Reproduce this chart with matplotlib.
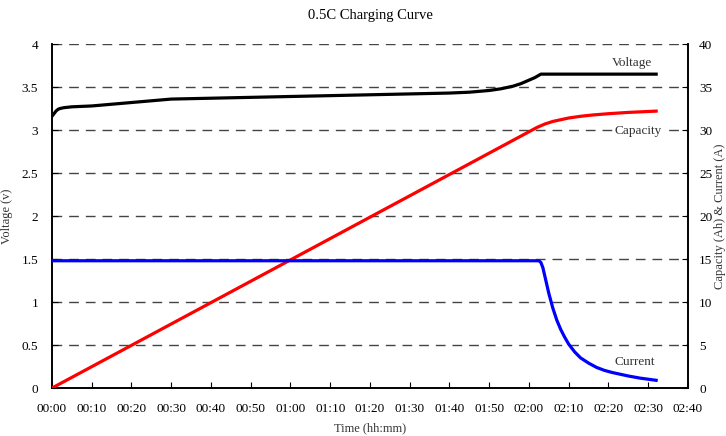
import matplotlib
matplotlib.use("Agg")
import matplotlib.pyplot as plt
import numpy as np

plt.rcParams['font.family'] = ['Liberation Serif', 'DejaVu Serif']

# time in minutes
v_time = [0, 0.5, 1, 1.5, 2, 3, 5, 10, 20, 30, 40, 50, 60, 70, 80, 90, 100, 105, 110, 113, 116, 118, 120, 121.5, 123, 130, 140, 152]
voltage = [3.16, 3.19, 3.22, 3.24, 3.25, 3.26, 3.27, 3.28, 3.32, 3.36, 3.37, 3.38, 3.39, 3.40, 3.41, 3.42, 3.43, 3.44, 3.46, 3.48, 3.51, 3.54, 3.58, 3.61, 3.65, 3.65, 3.65, 3.65]

c_time = [0, 60, 120, 122, 124, 126, 128, 130, 133, 136, 140, 145, 152]
capacity = [0, 14.9, 29.8, 30.3, 30.7, 31.0, 31.2, 31.4, 31.6, 31.75, 31.9, 32.05, 32.2]

i_time = [0, 60, 122.5, 123, 123.5, 124, 124.5, 125, 126, 127, 128, 129, 130, 131.5, 133, 135, 137, 139, 141, 143, 145, 148, 152]
current = [14.8, 14.8, 14.8, 14.6, 14.0, 13.0, 12.0, 11.0, 9.3, 7.9, 6.8, 5.9, 5.1, 4.2, 3.5, 2.9, 2.4, 2.05, 1.8, 1.6, 1.4, 1.15, 0.9]

x_ticks = list(range(0, 161, 10))
x_labels = ['%02d:%02d' % (m // 60, m % 60) for m in x_ticks]

fig = plt.figure(figsize=(7.26, 4.36), dpi=100)
ax = fig.add_axes([0.0716, 0.110, 0.876, 0.789])
ax2 = ax.twinx()

# dashed grid
for g in np.arange(0.5, 4.01, 0.5):
    ax.axhline(g, color='#444444', lw=1.0, ls=(0, (7, 5)), zorder=0)

ax.plot(v_time, voltage, color='black', lw=2.3, zorder=3)
ax2.plot(c_time, capacity, color='#ff0000', lw=2.3, zorder=3)
ax2.plot(i_time, current, color='#0000ff', lw=2.3, zorder=3)

ax.set_xlim(0, 160)
ax.set_ylim(0, 4)
ax2.set_ylim(0, 40)
ax.set_xticks(x_ticks)
ax.set_xticklabels(x_labels)
ax.set_yticks(np.arange(0, 4.01, 0.5))
ax.set_yticklabels(['0', '0.5', '1', '1.5', '2', '2.5', '3', '3.5', '4'])
ax2.set_yticks(range(0, 41, 5))

ax.tick_params(axis='x', direction='in', length=4, labelsize=9.5, pad=11)
ax.tick_params(axis='y', direction='in', length=4, labelsize=9.5, pad=10)
ax2.tick_params(axis='y', direction='in', length=4, labelsize=9.5, pad=8)

for a in (ax, ax2):
    a.spines['top'].set_visible(False)
    for s in ('left', 'right', 'bottom'):
        a.spines[s].set_linewidth(1.2)

ax.set_xlabel('Time (hh:mm)', fontsize=9, color='#333333', labelpad=5)
ax.set_ylabel('Voltage (v)', fontsize=9, color='#333333', labelpad=6)
ax2.set_ylabel('Capacity (Ah) & Current (A)', fontsize=9, color='#333333', labelpad=1)
ax.set_title('0.5C Charging Curve', fontsize=10.5, pad=18)

ax2.text(146, 37.8, 'Voltage', fontsize=9.5, color='#333333', ha='center', va='center')
ax2.text(147.5, 29.9, 'Capacity', fontsize=9.5, color='#333333', ha='center', va='center',
         bbox=dict(facecolor='white', edgecolor='none', pad=1))
ax2.text(146.5, 3.0, 'Current', fontsize=9.5, color='#333333', ha='center', va='center')

fig.savefig('out.png', dpi=100)
